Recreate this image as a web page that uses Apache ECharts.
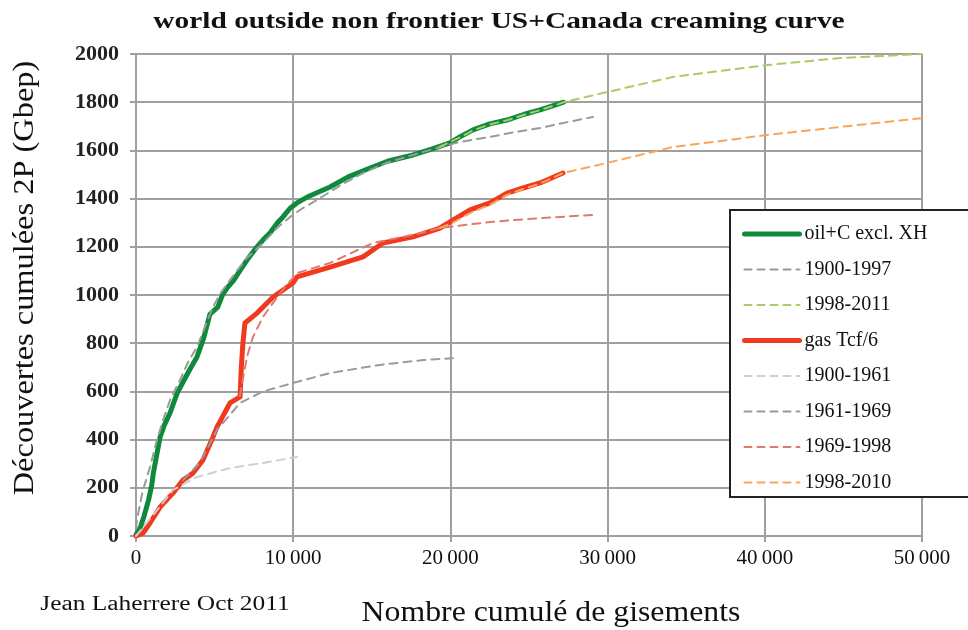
<!DOCTYPE html>
<html>
<head>
<meta charset="utf-8">
<script src="https://cdn.jsdelivr.net/npm/echarts@6/dist/echarts.min.js"></script>
<style>html,body{margin:0;padding:0;background:#fff}#c{width:968px;height:630px}</style>
</head>
<body>
<div id="c"></div>
<script>
// ---- data (x = cumulative number of fields, y = cumulative 2P discoveries Gbep) ----
const oilActual = [[0,5],[300,40],[500,80],[800,150],[1000,210],[1100,260],[1300,330],[1530,410],[1800,460],[2160,510],[2600,590],[3000,640],[3500,700],[3880,743],[4300,820],[4700,920],[5200,950],[5500,1000],[5800,1030],[6200,1060],[6600,1100],[7060,1145],[7700,1200],[8100,1230],[8520,1257],[9000,1300],[9350,1324],[9800,1360],[10240,1382],[11000,1410],[12340,1448],[13500,1490],[14890,1527],[16000,1555],[17620,1581],[18800,1605],[19970,1631],[20600,1656],[21440,1685],[22500,1710],[23600,1726],[24700,1750],[25700,1768],[26500,1785],[27200,1800]];
const oil1900_1997 = [[0,30],[60,66],[400,180],[890,286],[1300,390],[1720,481],[2200,570],[2800,647],[3300,720],[3880,784],[4400,870],[4900,950],[5400,1010],[5980,1062],[7000,1150],[8080,1216],[9000,1280],[9800,1324],[10600,1360],[11510,1394],[13000,1455],[14440,1506],[16000,1550],[17620,1581],[19340,1614],[20610,1635],[22520,1656],[24000,1675],[25700,1693],[27500,1718],[29070,1739]];
const oil1998_2011 = [[19300,1614],[20600,1654],[21440,1683],[22500,1708],[23600,1725],[24700,1748],[25700,1767],[26500,1784],[27200,1800],[29960,1842],[34160,1905],[40140,1954],[44780,1983],[50000,2000]];
const gasActual = [[0,0],[450,12],[890,54],[1530,120],[2350,178],[2990,232],[3630,261],[4260,315],[4900,411],[5150,452],[5980,552],[6620,577],[6700,700],[6800,800],[6930,884],[7700,925],[8720,992],[9990,1050],[10240,1075],[12340,1116],[14440,1158],[15710,1216],[17620,1241],[19340,1278],[20160,1311],[21250,1353],[22520,1382],[23600,1423],[24620,1444],[25700,1465],[27160,1506]];
const gas1900_1961 = [[0,0],[500,40],[1500,120],[2350,191],[3880,245],[5980,282],[8080,303],[10240,328]];
const gas1961_1969 = [[3000,232],[4000,300],[4600,370],[5150,440],[6620,552],[8080,600],[9990,635],[12340,676],[15520,710],[18260,730],[20160,738]];
const gas1969_1998 = [[6600,580],[6800,650],[7060,743],[7440,826],[8080,909],[9160,1008],[10240,1091],[12340,1133],[15080,1216],[17620,1250],[19340,1278],[22520,1303],[25700,1319],[29070,1332]];
const gas1998_2010 = [[19340,1278],[20160,1300],[21250,1340],[22520,1375],[23600,1415],[24620,1440],[25700,1462],[27160,1506],[29960,1548],[34160,1614],[40140,1664],[44780,1697],[50000,1734]];
const seriesNames = ['oil+C excl. XH','1900-1997','1998-2011','gas Tcf/6','1900-1961','1961-1969','1969-1998','1998-2010'];
const xTicks = [0,10000,20000,30000,40000,50000];
const yTicks = [0,200,400,600,800,1000,1200,1400,1600,1800,2000];
const titleText = 'world outside non frontier US+Canada creaming curve';
const xName = 'Nombre cumulé de gisements';
const yName = 'Découvertes cumulées 2P (Gbep)';
const credit = 'Jean Laherrere Oct 2011';

const serif = '"Liberation Serif","Times New Roman",serif';
const dash = [8,6];
const colors = ['#0f8a3c','#9a9a9a','#a9cc6b','#f03a20','#cfcfcf','#9a9a9a','#e07a70','#f9a55a'];
const widths = [5,2,2,5,2,2,2,2];
const datasets = [oilActual, oil1900_1997, oil1998_2011, gasActual, gas1900_1961, gas1961_1969, gas1969_1998, gas1998_2010];
const zs = [3,4,5,3,4,4,4,5];

const series = seriesNames.map((name, i) => ({
  name, type:'line', data:datasets[i], showSymbol:false, symbol:'none', z:zs[i],
  lineStyle:{color:colors[i], width:widths[i], type: widths[i] > 2 ? 'solid' : dash, cap:'round', join:'round'},
  itemStyle:{color:colors[i]}, emphasis:{disabled:true}, silent:true
}));
const legendData = seriesNames.map((name, i) => ({
  name,
  itemStyle:{opacity:0, borderWidth:0},
  lineStyle:{color:colors[i], width:widths[i], type: widths[i] > 2 ? 'solid' : [7,6], opacity:1}
}));

const chart = echarts.init(document.getElementById('c'), null, {renderer:'canvas'});
chart.setOption({
  animation:false,
  backgroundColor:'#fff',
  grid:{left:136, right:46, top:54, bottom:94, containLabel:false},
  xAxis:{type:'value', min:xTicks[0], max:xTicks[xTicks.length-1], interval:10000,
    axisLine:{show:true, lineStyle:{color:'#a0a0a0', width:2}},
    axisTick:{show:true, length:6, lineStyle:{color:'#a0a0a0', width:2}},
    splitLine:{show:true, lineStyle:{color:'#a0a0a0', width:2}},
    axisLabel:{margin:12, fontFamily:serif, fontSize:21, color:'#111',
      formatter:v => v === 0 ? '0' : String(v).replace(/(\d)(?=(\d{3})+$)/g,'$1\u2009')}},
  yAxis:{type:'value', min:yTicks[0], max:yTicks[yTicks.length-1], interval:200,
    axisLine:{show:true, lineStyle:{color:'#a0a0a0', width:2}},
    axisTick:{show:true, length:6, lineStyle:{color:'#a0a0a0', width:2}},
    splitLine:{show:true, lineStyle:{color:'#a0a0a0', width:2}},
    axisLabel:{margin:17, fontFamily:serif, fontSize:22, fontWeight:'bold', color:'#222',
      formatter:v => String(v)}},
  legend:{orient:'vertical', left:742, top:224, padding:0, z:120,
    itemWidth:55, itemHeight:20, itemGap:15.5, data:legendData,
    textStyle:{fontFamily:serif, fontSize:20, color:'#111'}},
  graphic:[
    {type:'rect', z:110, shape:{x:730, y:210, width:260, height:287}, style:{fill:'#fff', stroke:'#222', lineWidth:2}},
    {type:'text', x:499, y:22, scaleX:1.25, style:{text:titleText, font:'bold 23.5px '+serif, fill:'#111', align:'center', verticalAlign:'middle'}},
    {type:'text', x:165, y:605, scaleX:1.27, style:{text:credit, font:'20px '+serif, fill:'#111', align:'center', verticalAlign:'middle'}},
    {type:'text', x:551, y:613, scaleX:1.06, style:{text:xName, font:'30px '+serif, fill:'#111', align:'center', verticalAlign:'middle'}},
    {type:'text', x:25, y:278, rotation:Math.PI/2, scaleX:1.08, style:{text:yName, font:'30px '+serif, fill:'#111', align:'center', verticalAlign:'middle'}}
  ],
  series
});
</script>
</body>
</html>
